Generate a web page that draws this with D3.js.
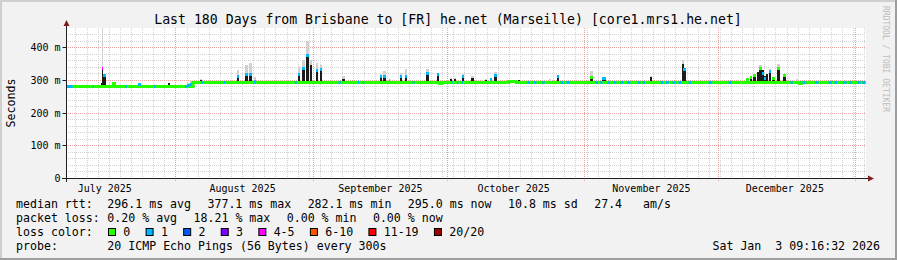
<!DOCTYPE html>
<html>
<head>
<meta charset="utf-8">
<script src="https://cdn.jsdelivr.net/npm/d3@7"></script>
<style>
  html, body { margin: 0; padding: 0; background: #f2f2f2; }
  svg { display: block; }
  text { font-family: "DejaVu Sans Mono", monospace; white-space: pre; }
</style>
</head>
<body>
<div id="chart"></div>
<script>
// ---- data ----
const startTime = new Date(2025, 6, 7, 9, 16, 32);
const endTime = new Date(2026, 0, 3, 9, 16, 32);
const titleText = "Last 180 Days from Brisbane to [FR] he.net (Marseille) [core1.mrs1.he.net]";

const monthLabels = ["July 2025", "August 2025", "September 2025", "October 2025", "November 2025", "December 2025"];
const monthLabelDates = [new Date(2025, 6, 16), new Date(2025, 7, 16), new Date(2025, 8, 16),
                         new Date(2025, 9, 16), new Date(2025, 10, 16), new Date(2025, 11, 16)];
const yTicks = [0, 100, 200, 300, 400];
const yTickLabels = ["0", "100 m", "200 m", "300 m", "400 m"];
const yMax = 459;

const lossLabels = ["0", "1", "2", "3", "4-5", "6-10", "11-19", "20/20"];
const lossColors = ["#26ff00", "#00b8ff", "#0059ff", "#7e00ff", "#ff00ff", "#ff5500", "#ff0000", "#a10000"];

// median baseline: [day offset, ms] – value holds until the next entry
const baseline = [[0, 282], [28.6, 295], [84.1, 290], [84.6, 295], [99.6, 297], [101.3, 295], [165.0, 290], [165.5, 295]];

// short stretches of the median drawn with a loss colour: [from day, to day, loss index]
const lossSpans = [
  [0.2, 1.5, 1], [6.0, 6.3, 1], [13.4, 13.7, 1], [19.8, 20.2, 1], [26.8, 27.2, 1],
  [30.5, 31.0, 1], [35.5, 35.9, 1], [42.3, 42.7, 1], [51.5, 51.9, 1], [61.3, 61.8, 1], [65.7, 66.0, 1],
  [66.8, 67.1, 1], [78.0, 78.4, 1], [86.7, 87.0, 1], [88.0, 88.3, 1], [89.0, 89.3, 1],
  [103.8, 104.4, 1], [105.2, 105.8, 1], [107.2, 107.7, 1], [111.3, 111.9, 1], [112.6, 113.4, 1],
  [119.1, 119.7, 1], [120.2, 120.7, 1], [121.8, 122.4, 1], [123.2, 123.8, 1], [124.8, 125.4, 1],
  [126.3, 127.0, 1], [128.6, 129.2, 1], [129.8, 130.3, 1], [133.8, 134.4, 1], [135.0, 135.6, 1],
  [136.5, 137.2, 1], [137.8, 138.5, 1], [140.1, 140.7, 1], [144.6, 145.4, 1], [149.1, 149.8, 1],
  [163.0, 163.5, 1], [165.7, 166.4, 1], [168.6, 169.3, 1], [171.6, 172.3, 1], [172.9, 173.5, 1],
  [174.9, 175.6, 1], [176.2, 176.8, 1], [178.1, 178.8, 1], [179.2, 179.8, 1]
];

// latency spikes: [day, duration days, dark smoke top ms, light smoke top ms, median ms, loss index]
const spikes = [
  [8.17, 0.25, 338, 470, 338, 4], [8.39, 0.5, 316, null, 315, 1], [7.9, 0.25, 291, null, null, 0],
  [10.46, 0.7, 290, null, 290, 0], [16.4, 0.45, null, null, 288, 1], [22.95, 0.4, 290, null, null, 0],
  [26.8, 0.5, null, 286, null, 0], [27.3, 0.6, null, 292, 285, 1], [27.9, 0.5, 291, 296, 289, 1],
  [28.35, 0.3, 298, 300, null, 0], [30.15, 0.35, 299, 302, null, 0],
  [38.5, 0.45, 315, 330, 312, 1], [40.4, 0.45, 321, 345, 318, 1], [41.3, 0.45, 320, 352, 317, 1],
  [42.4, 0.3, null, 308, 297, 1],
  [52.2, 0.45, 320, 340, 317, 1], [53.3, 0.45, 338, 362, 336, 1], [54.2, 0.55, 377, 418, 377, 1],
  [55.0, 0.45, 346, 360, null, 0], [56.25, 0.45, 332, 351, 330, 1], [57.15, 0.45, 334, 346, 333, 1],
  [62.3, 0.45, 302, 312, null, 0], [65.7, 0.3, null, null, 298, 1],
  [70.65, 0.45, 313, 317, 311, 1], [71.45, 0.65, 315, 326, 312, 1], [72.7, 0.3, null, null, 299, 0],
  [75.15, 0.45, 313, 322, 311, 1], [76.3, 0.45, 316, 334, 312, 1], [81.2, 0.45, 321, 333, 320, 1],
  [83.5, 0.45, 318, 322, 317, 1], [86.5, 0.35, 303, 307, null, 0], [87.5, 0.35, 302, 305, null, 0],
  [89.1, 0.45, 313, 318, 312, 1], [91.35, 0.35, 307, 311, null, 0], [94.4, 0.35, 300, 303, null, 0],
  [95.5, 0.35, 303, 305, 302, 1], [96.5, 0.45, 315, 325, 314, 1], [101.8, 0.25, 300, null, null, 0],
  [108.8, 0.25, null, 303, null, 0], [110.5, 0.45, 313, 316, 312, 1], [118.1, 0.45, 310, 328, 308, 0],
  [120.8, 0.65, 306, null, 306, 1], [131.5, 0.35, 310, 313, null, 0],
  [138.6, 0.35, 350, 362, null, 0], [138.95, 0.45, 337, null, 335, 1],
  [153.2, 0.45, 301, null, 303, 0], [153.9, 0.45, 306, null, 310, 0], [154.7, 0.45, 318, null, 316, 0],
  [155.6, 0.3, 325, null, null, 0], [156.05, 0.45, 340, 346, 338, 0], [156.6, 0.35, 330, null, 322, 1],
  [157.15, 0.35, 312, null, 306, 1], [157.7, 0.35, 318, null, null, 0], [158.2, 0.45, 331, 335, 328, 1],
  [159.0, 0.45, 310, null, 305, 0], [160.1, 0.45, 338, 348, 337, 0], [161.45, 0.45, 316, null, 315, 0],
  [164.35, 0.3, null, 303, null, 0]
];

const rttValues = [296.1, 377.1, 282.1, 295.0];
const statNames = ["avg", "max", "min", "now"];
const rttSd = 10.8;
const amPerSec = 27.4;
const lossValues = [0.20, 18.21, 0.00, 0.00];
const probeText = "20 ICMP Echo Pings (56 Bytes) every 300s";
const stampText = "Sat Jan  3 09:16:32 2026";

// ---- layout ----
const W = 897, H = 260;
const X0 = 66, XSIZE = 800, Y0 = 178, YSIZE = 150;
const DAY = 864e5;
const MED_W = 3;
const dayDate = d => new Date(startTime.getTime() + d * DAY);

const svg = d3.select("#chart").append("svg")
  .attr("width", W).attr("height", H);

// frame
svg.append("rect").attr("width", W).attr("height", H).attr("fill", "#f2f2f2");
svg.append("rect").attr("x", 0).attr("y", 0).attr("width", W).attr("height", 2).attr("fill", "#cfcfcf");
svg.append("rect").attr("x", 0).attr("y", 0).attr("width", 2).attr("height", H).attr("fill", "#cfcfcf");
svg.append("rect").attr("x", 0).attr("y", H - 2).attr("width", W).attr("height", 2).attr("fill", "#9e9e9e");
svg.append("rect").attr("x", W - 2).attr("y", 0).attr("width", 2).attr("height", H).attr("fill", "#9e9e9e");

const x = d3.scaleTime().domain([startTime, endTime]).range([X0, X0 + XSIZE]);
const y = d3.scaleLinear().domain([0, yMax]).range([Y0, Y0 - YSIZE]);
const px = v => Math.round(v) + 0.5;
const medY = v => Math.round(y(v)) + 0.5;   // median line sits on whole pixel rows

svg.append("defs").append("clipPath").attr("id", "plot")
  .append("rect").attr("x", X0).attr("y", Y0 - YSIZE).attr("width", XSIZE).attr("height", YSIZE);

// canvas
svg.append("rect").attr("x", X0).attr("y", Y0 - YSIZE).attr("width", XSIZE).attr("height", YSIZE).attr("fill", "#fff");

// grid
const grid = svg.append("g").attr("fill", "none").attr("stroke-dasharray", "1,1");
const minorColor = "#d2d2d2", majorColor = "#eba0a0";

d3.range(20, yMax, 20).filter(v => v % 100 !== 0).forEach(v => {
  grid.append("line").attr("x1", X0).attr("x2", X0 + XSIZE)
    .attr("y1", px(y(v))).attr("y2", px(y(v))).attr("stroke", minorColor);
});
const monthStarts = d3.timeMonth.range(startTime, endTime);
const anchor = monthStarts[0].getTime();
d3.range(-12, 70).map(k => new Date(anchor + k * 2.5 * DAY))
  .filter(t => t > startTime && t < endTime)
  .filter(t => monthStarts.every(m => Math.abs(m - t) > 0.4 * DAY))
  .forEach(t => {
    grid.append("line").attr("x1", px(x(t))).attr("x2", px(x(t)))
      .attr("y1", Y0 + 1).attr("y2", Y0 - YSIZE).attr("stroke", minorColor);
  });
yTicks.filter(v => v > 0).forEach(v => {
  grid.append("line").attr("x1", X0).attr("x2", X0 + XSIZE)
    .attr("y1", px(y(v))).attr("y2", px(y(v))).attr("stroke", majorColor);
});
monthStarts.forEach(t => {
  grid.append("line").attr("x1", px(x(t))).attr("x2", px(x(t)))
    .attr("y1", Y0 + 3).attr("y2", Y0 - YSIZE).attr("stroke", majorColor);
});

// data layers
const plot = svg.append("g").attr("clip-path", "url(#plot)");
const baseAt = d => {
  let v = baseline[0][1];
  baseline.forEach(b => { if (d >= b[0]) v = b[1]; });
  return v;
};
const colX = d => Math.floor(x(dayDate(d)));
const colW = (d, w) => Math.max(1, Math.round(x(dayDate(d + w))) - colX(d));

// light smoke
plot.selectAll(".smoke-light").data(spikes.filter(s => s[3] != null)).enter().append("rect")
  .attr("class", "smoke-light")
  .attr("x", s => colX(s[0])).attr("width", s => colW(s[0], s[1]))
  .attr("y", s => Math.round(y(s[3]))).attr("height", s => Math.max(0, Math.round(y(baseAt(s[0]))) - Math.round(y(s[3]))))
  .attr("fill", "#d0d0d0");
// dark smoke
plot.selectAll(".smoke-dark").data(spikes.filter(s => s[2] != null)).enter().append("rect")
  .attr("class", "smoke-dark")
  .attr("x", s => colX(s[0])).attr("width", s => colW(s[0], s[1]))
  .attr("y", s => Math.round(y(s[2]))).attr("height", s => Math.max(0, Math.round(y(baseAt(s[0]))) - Math.round(y(s[2]))))
  .attr("fill", "#1c1c1c");

// median baseline
const basePts = baseline.concat([[180, baseline[baseline.length - 1][1]]]);
plot.append("path").datum(basePts)
  .attr("fill", "none").attr("stroke", lossColors[0]).attr("stroke-width", MED_W)
  .attr("d", d3.line().x(b => x(dayDate(b[0]))).y(b => medY(b[1])).curve(d3.curveStepAfter));

// loss coloured median stretches
plot.selectAll(".loss").data(lossSpans).enter().append("line")
  .attr("class", "loss")
  .attr("x1", s => x(dayDate(s[0]))).attr("x2", s => x(dayDate(s[1])))
  .attr("y1", s => medY(baseAt(s[0]))).attr("y2", s => medY(baseAt(s[0])))
  .attr("stroke", s => lossColors[s[2]]).attr("stroke-width", MED_W);

// median at the spikes
plot.selectAll(".med").data(spikes.filter(s => s[4] != null)).enter().append("line")
  .attr("class", "med")
  .attr("x1", s => colX(s[0])).attr("x2", s => colX(s[0]) + colW(s[0], s[1]))
  .attr("y1", s => medY(s[4])).attr("y2", s => medY(s[4]))
  .attr("stroke", s => lossColors[s[5]]).attr("stroke-width", MED_W);

// axes
const axisColor = "#1f1f1f", arrowColor = "#801f1f";
const yAxis = svg.append("g").attr("transform", `translate(${X0 + 0.5},0)`)
  .call(d3.axisLeft(y).tickValues(yTicks).tickFormat((d, i) => yTickLabels[i]).tickSize(4).tickPadding(2));
yAxis.select(".domain").remove();
yAxis.selectAll(".tick line").attr("stroke", axisColor);
yAxis.selectAll(".tick").attr("transform", d => `translate(0,${px(y(d))})`);
yAxis.selectAll("text").attr("font-family", "DejaVu Sans Mono").attr("font-size", 10).attr("fill", "#000");

const xAxis = svg.append("g").attr("transform", `translate(0,${Y0})`)
  .call(d3.axisBottom(x).tickValues(monthLabelDates).tickFormat((d, i) => monthLabels[i]).tickSize(0).tickPadding(6.4));
xAxis.select(".domain").remove();
xAxis.selectAll("text").attr("font-family", "DejaVu Sans Mono").attr("font-size", 10).attr("fill", "#000");

svg.append("line").attr("x1", X0 - 4).attr("x2", X0 + XSIZE + 3)
  .attr("y1", Y0 + 0.5).attr("y2", Y0 + 0.5).attr("stroke", axisColor);
svg.append("line").attr("x1", X0 + 0.5).attr("x2", X0 + 0.5)
  .attr("y1", Y0 + 4).attr("y2", Y0 - YSIZE - 3).attr("stroke", axisColor);
svg.append("path").attr("fill", arrowColor)
  .attr("d", `M${X0 + XSIZE + 2},${Y0 - 2.5}L${X0 + XSIZE + 8},${Y0 + 0.5}L${X0 + XSIZE + 2},${Y0 + 3.5}Z`);
svg.append("path").attr("fill", arrowColor)
  .attr("d", `M${X0 - 2.5},${Y0 - YSIZE - 2}L${X0 + 0.5},${Y0 - YSIZE - 8}L${X0 + 3.5},${Y0 - YSIZE - 2}Z`);

// title, axis title, watermark
svg.append("text").attr("x", 448).attr("y", 24).attr("text-anchor", "middle")
  .attr("font-size", 13.2).attr("fill", "#000").text(titleText);
svg.append("text").attr("transform", `translate(14.8,${Y0 - YSIZE / 2}) rotate(-90)`)
  .attr("text-anchor", "middle").attr("font-size", 11.6).attr("fill", "#000").text("Seconds");
svg.append("text").attr("transform", "translate(883,6) rotate(90)")
  .attr("font-size", 8).attr("fill", "#bcbcbc").text("RRDTOOL / TOBI OETIKER");

// legend
const lg = svg.append("g").attr("font-size", 11.6).attr("fill", "#000");
const tabX = 107.3, itemGap = 16.4, rows = [208.3, 222.3, 236.3, 250.3];

function itemRow(yy, label, items) {
  lg.append("text").attr("x", 16).attr("y", yy).text(label);
  let xx = tabX;
  items.forEach(s => {
    const t = lg.append("text").attr("x", xx).attr("y", yy).text(s);
    xx += t.node().getComputedTextLength() + itemGap;
  });
}
itemRow(rows[0], "median rtt:",
  rttValues.map((v, i) => `${v.toFixed(1)} ms ${statNames[i]}`)
    .concat([`${rttSd.toFixed(1)} ms sd`, `${amPerSec.toFixed(1)}   am/s`]));
itemRow(rows[1], "packet loss:", lossValues.map((v, i) => `${v.toFixed(2)} % ${statNames[i]}`));

lg.append("text").attr("x", 16).attr("y", rows[2]).text("loss color:");
let sx = 108;
lossLabels.forEach((l, i) => {
  lg.append("rect").attr("x", sx + 0.5).attr("y", rows[2] - 7.8).attr("width", 7).attr("height", 7)
    .attr("fill", lossColors[i]).attr("stroke", "#000");
  const t = lg.append("text").attr("x", sx + 15.3).attr("y", rows[2]).text(l);
  sx = sx + 15.3 + t.node().getComputedTextLength() + 15.3;
});

lg.append("text").attr("x", 16).attr("y", rows[3]).text("probe:");
lg.append("text").attr("x", tabX).attr("y", rows[3]).text(probeText);
lg.append("text").attr("x", 880).attr("y", rows[3]).attr("text-anchor", "end").text(stampText);
</script>
</body>
</html>
